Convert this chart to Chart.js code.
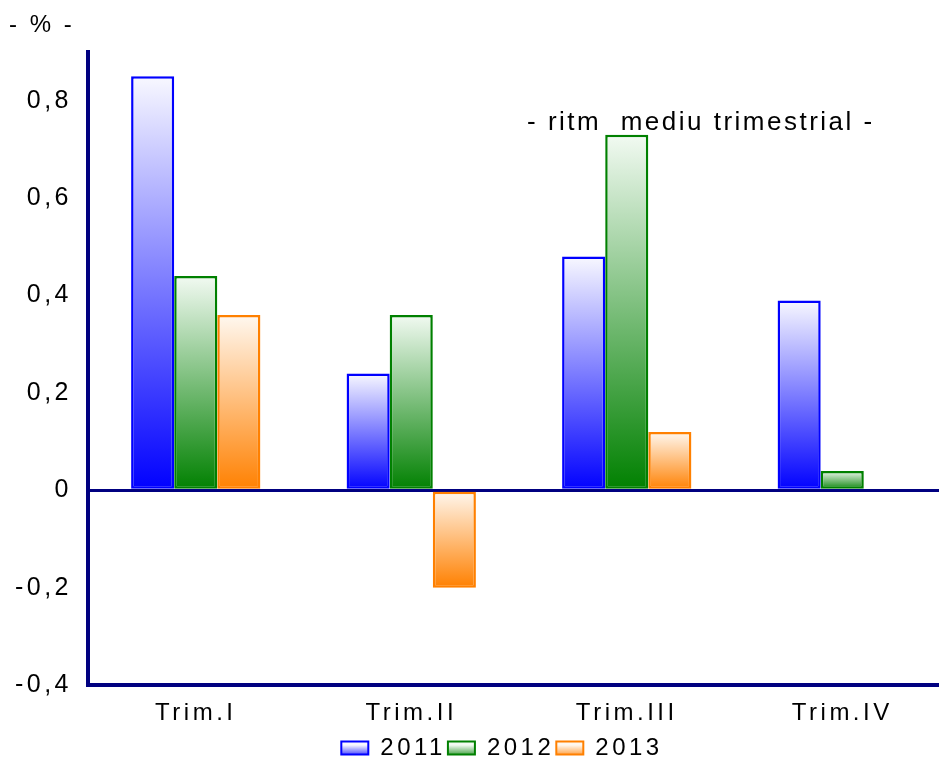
<!DOCTYPE html>
<html>
<head>
<meta charset="utf-8">
<script src="https://cdn.jsdelivr.net/npm/chart.js@4.4.1/dist/chart.umd.min.js"></script>
<style>
    html, body { margin: 0; padding: 0; overflow: hidden; background: #fff; }
    #wrap { width: 950px; height: 760px; }
</style>
</head>
<body>
<div id="wrap"><canvas id="chart"></canvas></div>
<script>
// Chart data
const categories = ['Trim.I', 'Trim.II', 'Trim.III', 'Trim.IV'];
const seriesNames = ['2011', '2012', '2013'];
const values2011 = [0.85, 0.24, 0.48, 0.39];
const values2012 = [0.44, 0.36, 0.73, 0.04];
const values2013 = [0.36, -0.20, 0.12, null];
const yTicks = [-0.4, -0.2, 0, 0.2, 0.4, 0.6, 0.8];

const NAVY = '#000080';
const FONT = "'Liberation Sans', Arial, sans-serif";
const SPACING = '3.5px';

// vertical gradient per bar: light at top, full colour at bottom
function barGradient(base, light) {
    return function(ctx) {
        const chart = ctx.chart;
        const y = chart.scales.y;
        if (ctx.type !== 'data' || !y || !chart.chartArea || !ctx.parsed || ctx.parsed.y == null) {
            return base;
        }
        const p = y.getPixelForValue(ctx.parsed.y);
        const z = y.getPixelForValue(0);
        const top = Math.min(p, z);
        const bottom = Math.max(p, z);
        if (bottom - top < 1) return base;
        const g = chart.ctx.createLinearGradient(0, top, 0, bottom);
        g.addColorStop(0, light);
        g.addColorStop(1, base);
        return g;
    };
}

const baseColors = ['#0000FF', '#008000', '#FF8000'];
const lightColors = ['#F8F8FF', '#F2FAF2', '#FFF8F0'];
const allValues = [values2011, values2012, values2013];

const datasets = seriesNames.map((name, i) => ({
    label: name,
    data: allValues[i],
    backgroundColor: barGradient(baseColors[i], lightColors[i]),
    borderColor: baseColors[i],
    borderWidth: 2.5,
    borderSkipped: false,
    categoryPercentage: 0.6,
    barPercentage: 1.0
}));

function formatTick(v) {
    if (!yTicks.some(t => Math.abs(t - v) < 1e-9)) return '';
    return (Math.round(v * 10) / 10).toString().replace('.', ',');
}

// letter spacing and free text labels
const extrasPlugin = {
    id: 'extras',
    beforeUpdate(chart) { chart.ctx.letterSpacing = SPACING; },
    beforeDraw(chart) { chart.ctx.letterSpacing = SPACING; },
    afterLayout(chart) {
        // legend sits a bit right of centre in the original
        if (chart.legend) {
            chart.legend.left += 27;
            chart.legend.right += 27;
        }
    },
    afterDraw(chart) {
        const ctx = chart.ctx;
        ctx.save();
        ctx.fillStyle = '#000';
        ctx.textAlign = 'left';
        ctx.textBaseline = 'middle';
        ctx.letterSpacing = '3px';
        ctx.font = '24px ' + FONT;
        ctx.fillText('- % -', 9, 25);
        ctx.letterSpacing = '2.5px';
        ctx.font = '26px ' + FONT;
        ctx.fillText('- ritm  mediu trimestrial -', 527, 123);
        ctx.restore();
    }
};

new Chart(document.getElementById('chart'), {
    type: 'bar',
    data: {
        labels: categories,
        datasets: datasets
    },
    options: {
        responsive: true,
        maintainAspectRatio: false,
        animation: false,
        devicePixelRatio: 1,
        layout: {
            padding: { top: 52, left: 0, right: 0, bottom: -10 }
        },
        plugins: {
            tooltip: { enabled: false },
            title: { display: false },
            legend: {
                position: 'bottom',
                labels: {
                    color: '#000',
                    font: { family: FONT, size: 24 },
                    boxWidth: 27,
                    boxHeight: 13,
                    padding: 2,
                    generateLabels(chart) {
                        const lg = chart.legend;
                        return chart.data.datasets.map((ds, i) => {
                            let fill = baseColors[i];
                            if (lg && lg.bottom > lg.top) {
                                const mid = (lg.top + lg.bottom) / 2;
                                const g = chart.ctx.createLinearGradient(0, mid - 7, 0, mid + 7);
                                g.addColorStop(0, lightColors[i]);
                                g.addColorStop(1, baseColors[i]);
                                fill = g;
                            }
                            return {
                                text: ds.label,
                                fillStyle: fill,
                                strokeStyle: baseColors[i],
                                lineWidth: 2,
                                fontColor: '#000',
                                datasetIndex: i,
                                hidden: false
                            };
                        });
                    }
                }
            }
        },
        scales: {
            x: {
                grid: { display: false },
                border: { display: true, color: NAVY, width: 4 },
                ticks: {
                    color: '#000',
                    font: { family: FONT, size: 24 },
                    padding: 6
                }
            },
            y: {
                min: -0.4,
                max: 0.9,
                z: 1,
                afterBuildTicks(scale) {
                    scale.ticks = yTicks.map(v => ({ value: v }));
                },
                afterFit(scale) { scale.width = 88; },
                grid: {
                    drawTicks: false,
                    color: c => (c.tick && Math.abs(c.tick.value) < 1e-9) ? NAVY : 'rgba(0,0,0,0)',
                    lineWidth: 3
                },
                border: { display: true, color: NAVY, width: 4 },
                ticks: {
                    color: '#000',
                    font: { family: FONT, size: 25 },
                    padding: 16,
                    callback: formatTick
                }
            }
        }
    },
    plugins: [extrasPlugin]
});
</script>
</body>
</html>
